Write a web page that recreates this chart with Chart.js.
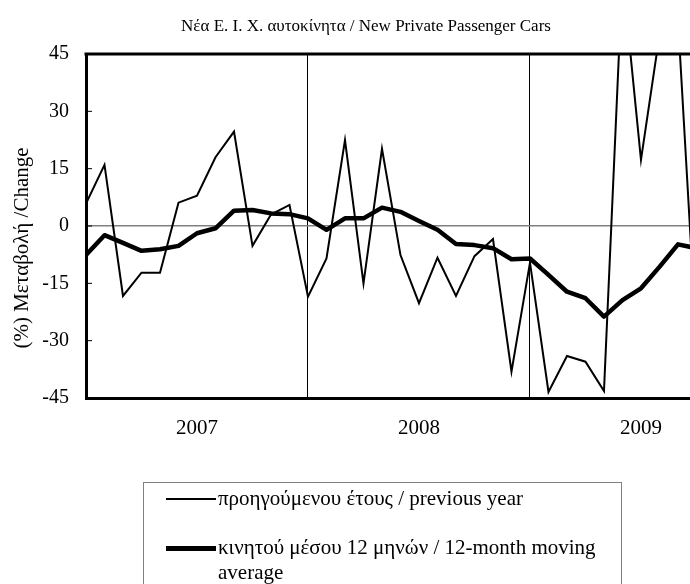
<!DOCTYPE html>
<html>
<head>
<meta charset="utf-8">
<script src="https://cdn.jsdelivr.net/npm/chart.js@4"></script>
<style>
    body { margin: 0; background: #fff; }
    #wrap { position: relative; width: 690px; height: 584px; overflow: hidden; }
    #legend { position: absolute; left: 143px; top: 482px; width: 477px; height: 120px;
        border: 1px solid #808080; font-family: 'Liberation Serif', serif; font-size: 21px; color: #000; }
    .item { position: absolute; left: 22px; }
    .mark { position: absolute; left: 0; width: 50px; background: #000; }
    .txt { position: absolute; left: 52px; white-space: nowrap; line-height: 25px; }
</style>
</head>
<body>
<div id="wrap">
    <canvas id="grafico" width="690" height="584"></canvas>
    <div id="legend"></div>
</div>
<script>
// Μηνιαίες μεταβολές (%) - ξεκινά Ιαν. 2007
const years = ['2007', '2008', '2009'];
const yTicks = [-45, -30, -15, 0, 15, 30, 45];
const prevYear = [5.9, 16, -18.3, -12.2, -12.2, 6.1, 7.9, 18, 24.7, -5.2, 3, 5.5,
    -18.5, -8.5, 22.5, -15, 20.2, -7.6, -20.2, -8.3, -18.3, -7.9, -3.4, -38.1,
    -9.6, -43.4, -34, -35.5, -43.2, 66, 17.3, 50, 54, -30];
const movingAvg = [-7.6, -2.4, -4.4, -6.5, -6.1, -5.2, -1.9, -0.6, 4.0, 4.2, 3.3, 3.1,
    2.0, -1.0, 2.0, 2.0, 4.8, 3.7, 1.3, -1.0, -4.7, -5.0, -5.8, -8.7,
    -8.5, -12.8, -17.2, -18.9, -23.7, -19.4, -16.3, -10.7, -4.8, -5.8];
const seriesNames = ['προηγούμενου έτους / previous year', 'κινητού μέσου 12 μηνών / 12-month moving average'];
const chartTitle = 'Νέα Ε. Ι. Χ. αυτοκίνητα / New Private Passenger Cars';
const yTitle = '(%) Μεταβολή /Change';

const serif = 'Liberation Serif';

// etiquetas de año en el centro de cada año, separadores en enero
const labelAt = {};
years.forEach((y, i) => { labelAt[6 + 12 * i] = y; });
const yearSep = [12, 24];

const extras = {
    id: 'extras',
    afterDatasetsDraw(chart) {
        const ctx = chart.ctx;
        const a = chart.chartArea;
        ctx.save();
        ctx.strokeStyle = '#000';
        // borde superior
        ctx.lineWidth = 3;
        ctx.beginPath();
        ctx.moveTo(a.left - 1.5, a.top);
        ctx.lineTo(a.right, a.top);
        ctx.stroke();
        // marcas internas del eje y
        ctx.lineWidth = 1;
        yTicks.forEach(v => {
            const y = chart.scales.y.getPixelForValue(v);
            ctx.beginPath();
            ctx.moveTo(a.left, y);
            ctx.lineTo(a.left + 6, y);
            ctx.stroke();
        });
        // título
        ctx.fillStyle = '#000';
        ctx.font = '17px "' + serif + '"';
        ctx.textAlign = 'center';
        ctx.textBaseline = 'middle';
        ctx.fillText(chartTitle, 366, 27);
        // título del eje y
        ctx.font = '21px "' + serif + '"';
        ctx.translate(22, 248);
        ctx.rotate(-Math.PI / 2);
        ctx.fillText(yTitle, 0, 0);
        ctx.restore();
    }
};

new Chart(document.getElementById('grafico'), {
    type: 'line',
    data: {
        datasets: [{
            label: seriesNames[0],
            data: prevYear.map((v, i) => ({ x: i, y: v })),
            borderColor: '#000',
            borderWidth: 2,
            pointRadius: 0,
            tension: 0,
            clip: 0
        }, {
            label: seriesNames[1],
            data: movingAvg.map((v, i) => ({ x: i, y: v })),
            borderColor: '#000',
            borderWidth: 4.5,
            borderJoinStyle: 'round',
            pointRadius: 0,
            tension: 0,
            clip: 0
        }]
    },
    options: {
        responsive: false,
        animation: false,
        layout: { padding: { top: 54, left: 0, right: 0, bottom: 0 } },
        plugins: { legend: { display: false }, title: { display: false }, tooltip: { enabled: false } },
        scales: {
            x: {
                type: 'linear',
                min: 0,
                max: 32.65,
                afterBuildTicks: s => { s.ticks = [6, 12, 18, 24, 30].map(v => ({ value: v })); },
                afterFit: s => { s.height = 186; },
                ticks: {
                    autoSkip: false,
                    maxRotation: 0,
                    padding: 18,
                    color: '#000',
                    font: { family: serif, size: 21 },
                    callback: v => labelAt[v] || ''
                },
                grid: {
                    drawTicks: false,
                    lineWidth: 1,
                    color: c => (c.tick && yearSep.includes(c.tick.value)) ? '#000' : 'rgba(0,0,0,0)'
                },
                border: { color: '#000', width: 3 }
            },
            y: {
                min: -45,
                max: 45,
                afterBuildTicks: s => { s.ticks = yTicks.map(v => ({ value: v })); },
                afterFit: s => { s.width = 86; },
                ticks: {
                    padding: 17,
                    color: '#000',
                    font: { family: serif, size: 20 }
                },
                grid: {
                    drawTicks: false,
                    lineWidth: 1.5,
                    color: c => (c.tick && c.tick.value === 0) ? '#808080' : 'rgba(0,0,0,0)'
                },
                border: { color: '#000', width: 3 }
            }
        }
    },
    plugins: [extras]
});

// leyenda en HTML
const legend = document.getElementById('legend');
const marks = [{ w: 2, top: 16 }, { w: 5, top: 65 }];
seriesNames.forEach((name, i) => {
    const item = document.createElement('div');
    item.className = 'item';
    item.style.top = marks[i].top + 'px';
    const mark = document.createElement('div');
    mark.className = 'mark';
    mark.style.height = marks[i].w + 'px';
    mark.style.top = -marks[i].w / 2 + 'px';
    const txt = document.createElement('div');
    txt.className = 'txt';
    txt.style.top = '-13px';
    if (i === 1) {
        txt.innerHTML = 'κινητού μέσου 12 μηνών / 12-month moving<br>average';
    } else {
        txt.textContent = name;
    }
    item.appendChild(mark);
    item.appendChild(txt);
    legend.appendChild(item);
});
</script>
</body>
</html>
